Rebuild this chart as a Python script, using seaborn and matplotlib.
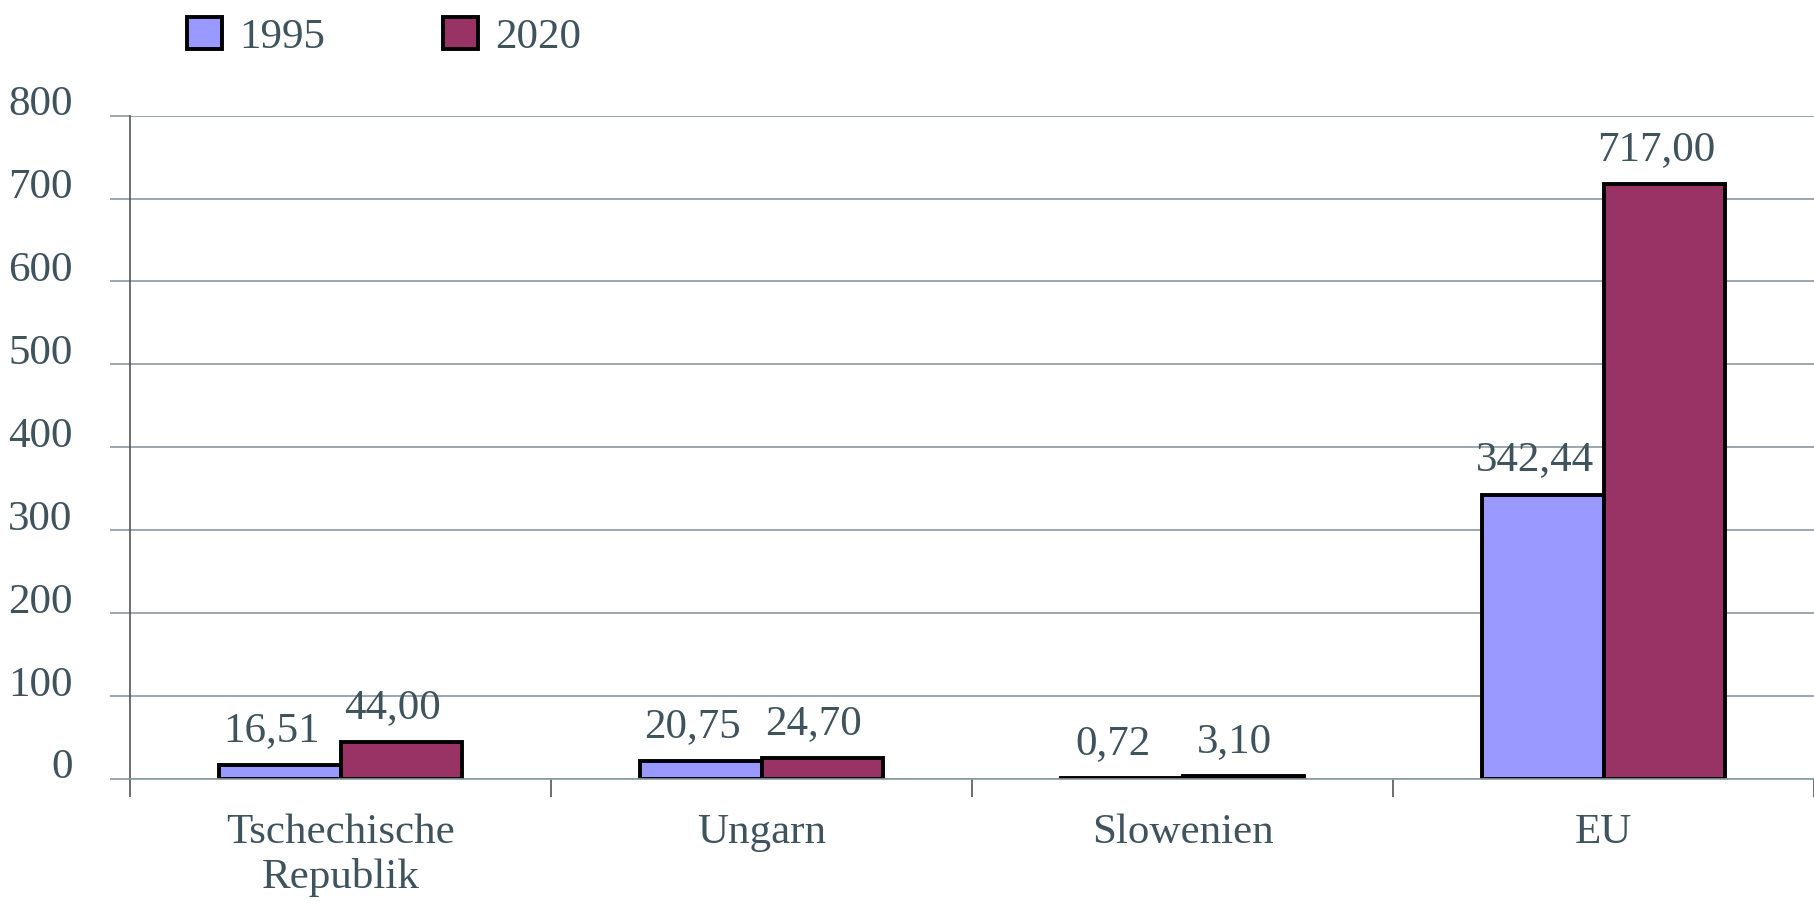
import pandas as pd
import seaborn as sns
import matplotlib.pyplot as plt
from matplotlib.transforms import ScaledTranslation

# data
laender = ['Tschechische\nRepublik', 'Ungarn', 'Slowenien', 'EU']
jahre = ['1995', '2020']
werte_1995 = [16.51, 20.75, 0.72, 342.44]
werte_2020 = [44.00, 24.70, 3.10, 717.00]
yticks = [0, 100, 200, 300, 400, 500, 600, 700, 800]

farben = ['#9999ff', '#993366']
textfarbe = '#3f535d'
gridfarbe = '#8a99a3'
fs = 31

df = pd.DataFrame({
    'land': laender * 2,
    'jahr': [jahre[0]] * 4 + [jahre[1]] * 4,
    'wert': werte_1995 + werte_2020,
})

sns.set_style('white')
plt.rcParams['font.family'] = ['Liberation Serif', 'DejaVu Serif']
plt.rcParams['text.color'] = textfarbe

fig = plt.figure(figsize=(18.14, 9.01), dpi=100)
ax = fig.add_axes([0.0717, 0.1358, 0.9283, 0.7358])

sns.barplot(data=df, x='land', y='wert', hue='jahr', hue_order=jahre,
            palette=farben, width=0.577, gap=0, edgecolor='black',
            linewidth=2.8, saturation=1, ax=ax)

# legend on top, outside the axes
handles, labels = ax.get_legend_handles_labels()
ax.legend_.remove()
fig.legend(handles, labels, loc='upper left', bbox_to_anchor=(0.082, 1.024),
           ncol=2, frameon=False, fontsize=fs, handlelength=0.8,
           handleheight=0.76, handletextpad=0.4, columnspacing=2.75)

# value labels with german decimal comma
for cont in ax.containers:
    texte = ax.bar_label(cont, fmt=lambda v: f'{v:.2f}'.replace('.', ','),
                         padding=10, fontsize=fs, color=textfarbe)
    for t in texte:
        t.xyann = (-6, 11)

ax.set_ylim(0, 800)
ax.set_xlim(-0.5, 3.5)
ax.set_yticks(yticks)
ax.set_yticklabels([str(v) for v in yticks])
ax.yaxis.grid(True, color=gridfarbe, linewidth=1.2)
ax.set_axisbelow(True)
ax.set_xlabel('')
ax.set_ylabel('')

ax.tick_params(axis='y', length=14.4, width=1.2, color=gridfarbe, pad=27,
               labelsize=fs, labelcolor=textfarbe, left=True)
ax.tick_params(axis='x', which='major', length=0, pad=25, labelsize=fs,
               labelcolor=textfarbe)
ax.set_xticks([-0.5, 0.5, 1.5, 2.5, 3.5], minor=True)
ax.tick_params(axis='x', which='minor', length=13, width=1.2,
               color='#555555', bottom=True)

# y tick labels sit a bit above their gridline
for lab in ax.get_yticklabels():
    lab.set_transform(lab.get_transform() +
                      ScaledTranslation(0, 15 / 100, fig.dpi_scale_trans))

for s in ['top', 'right']:
    ax.spines[s].set_visible(False)
ax.spines['left'].set_color('#555555')
ax.spines['left'].set_linewidth(1.2)
ax.spines['bottom'].set_color(gridfarbe)
ax.spines['bottom'].set_linewidth(1.2)

fig.savefig('out.png', dpi=100)
